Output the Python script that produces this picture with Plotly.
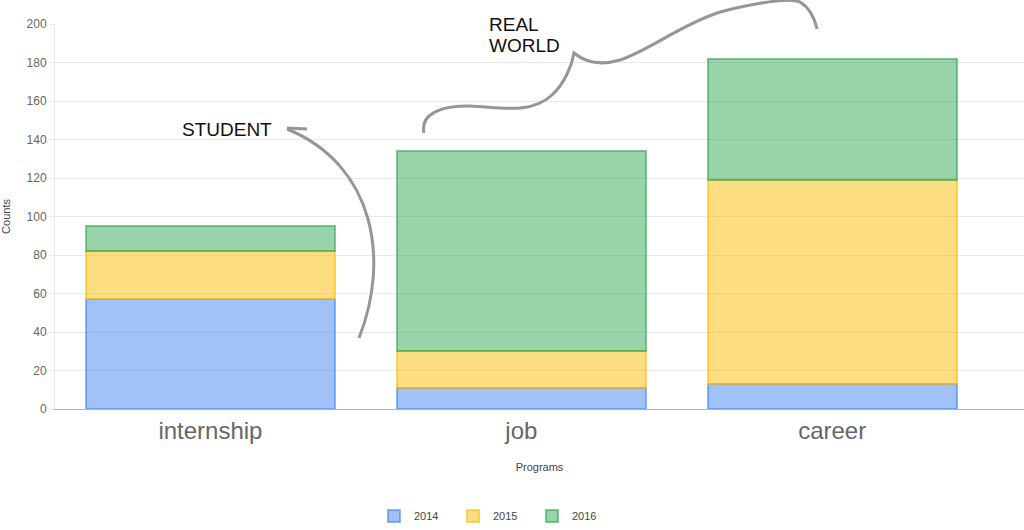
import plotly.graph_objects as go

programs = ["internship", "job", "career"]
years = ["2014", "2015", "2016"]
counts_2014 = [57, 11, 13]
counts_2015 = [25, 19, 106]
counts_2016 = [13, 104, 63]
series = [counts_2014, counts_2015, counts_2016]
fill_colors = ["rgba(66,133,244,0.5)", "rgba(251,188,5,0.5)", "rgba(52,168,83,0.5)"]
line_colors = ["rgba(66,133,244,0.6)", "rgba(251,188,5,0.6)", "rgba(52,168,83,0.6)"]

W, H = 1024, 530
L, R, T, B = 55, 0, 24, 121
PW, PH = W - L - R, H - T - B

def px(x):
    return (x - L) / PW

def py(y):
    return (H - B - y) / PH

def path(segments):
    out = []
    for cmd, pts in segments:
        coords = " ".join(f"{px(a):.5f},{py(b):.5f}" for a, b in pts)
        out.append(f"{cmd} {coords}")
    return " ".join(out)

fig = go.Figure()
for name, vals, fc, lc in zip(years, series, fill_colors, line_colors):
    fig.add_trace(go.Bar(
        name=name, x=programs, y=vals, width=0.8,
        marker=dict(color=fc, line=dict(color=lc, width=2)),
    ))

grey = "rgb(150,150,150)"
student_curve = path([("M", [(359, 338)]), ("C", [(390, 260), (375, 165), (287, 129)])])
student_head = path([("M", [(307, 129)]), ("L", [(287, 128), (297, 143)])])
real_curve = path([
    ("M", [(424, 133)]),
    ("C", [(420, 115), (440, 105), (470, 106)]),
    ("C", [(500, 107), (530, 115), (552, 95)]),
    ("C", [(565, 83), (572, 65), (574, 53)]),
    ("C", [(585, 62), (600, 66), (620, 60)]),
    ("C", [(650, 50), (680, 25), (720, 12)]),
    ("C", [(760, 2), (790, -2), (800, 2)]),
    ("C", [(810, 8), (815, 20), (817, 29)]),
])
shapes = []
for p in (student_curve, student_head, real_curve):
    shapes.append(dict(type="path", xref="paper", yref="paper", path=p,
                       line=dict(color=grey, width=3)))

annot_font = dict(family="Liberation Sans, Arial", size=19, color="#111")
annotations = [
    dict(text="STUDENT", xref="paper", yref="paper", x=px(180), y=py(129),
         xanchor="left", yanchor="middle", showarrow=False, font=annot_font),
    dict(text="REAL", xref="paper", yref="paper", x=px(487), y=py(24),
         xanchor="left", yanchor="middle", showarrow=False, font=annot_font),
    dict(text="WORLD", xref="paper", yref="paper", x=px(487), y=py(45.5),
         xanchor="left", yanchor="middle", showarrow=False, font=annot_font),
]

fig.update_layout(
    width=W, height=H,
    margin=dict(l=L, r=R, t=T, b=B, autoexpand=False),
    barmode="stack",
    plot_bgcolor="white", paper_bgcolor="white",
    font=dict(family="Liberation Sans, Arial", color="#666"),
    shapes=shapes,
    annotations=annotations,
    showlegend=True,
    legend=dict(orientation="h", x=px(374), y=py(516), xanchor="left", yanchor="middle",
                entrywidth=34, entrywidthmode="pixels",
                font=dict(size=11, color="#444"), traceorder="normal"),
    xaxis=dict(
        range=[-0.5, 2.617],
        automargin=False,
        tickfont=dict(size=24, color="#666"),
        showline=True, linecolor="rgb(180,180,180)", linewidth=1,
        title=dict(text="Programs", font=dict(size=11, color="#444"), standoff=20),
        showgrid=False,
    ),
    yaxis=dict(
        range=[0, 200], dtick=20,
        automargin=False,
        tickfont=dict(size=12, color="#666"),
        gridcolor="rgb(232,232,232)", gridwidth=1,
        showline=True, linecolor="rgb(232,232,232)",
        ticks="outside", ticklen=5, tickcolor="rgb(232,232,232)",
        zeroline=False,
        title=dict(text="Counts", font=dict(size=11, color="#444"), standoff=17),
    ),
)

fig.write_html("out.html", config={"displayModeBar": False},
               post_script="document.body.style.margin='0';")
